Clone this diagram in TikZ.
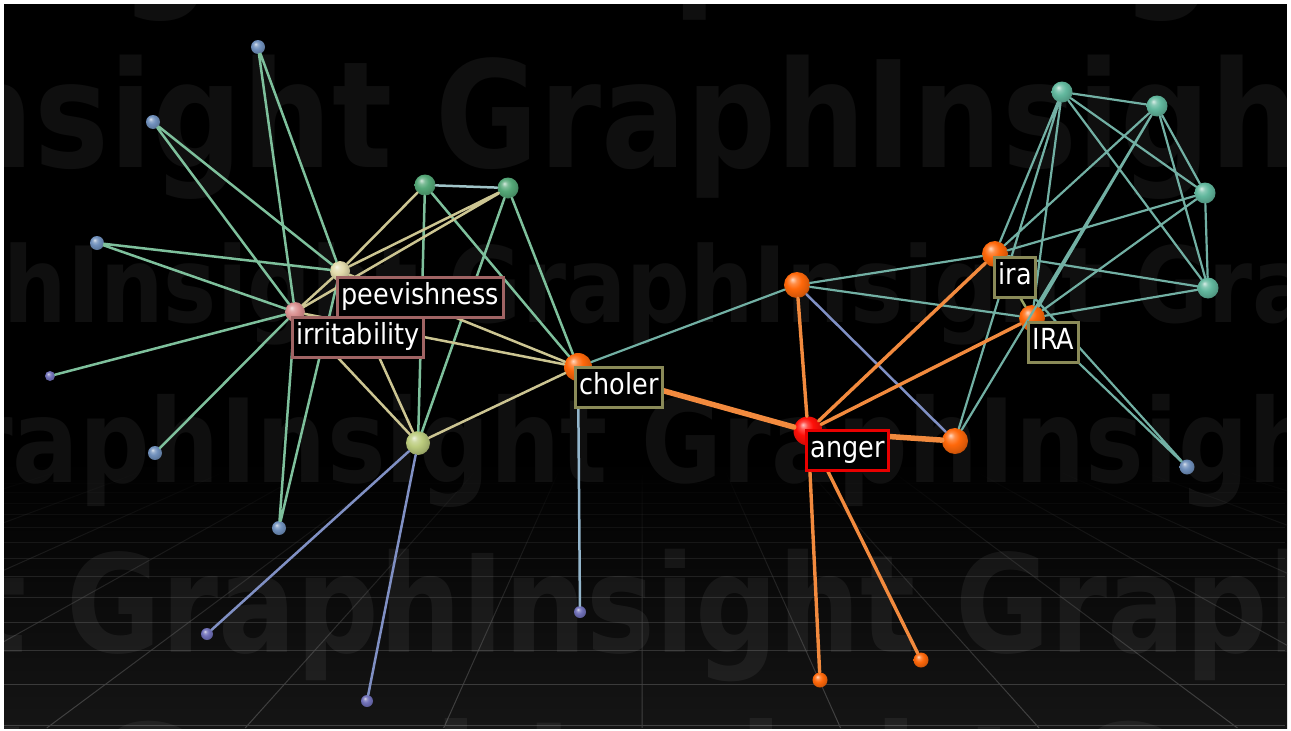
\documentclass[tikz,border=0pt]{standalone}
\usepackage{fontspec}
\setmainfont{DejaVu Sans}
\newfontfamily\tagfont[FakeStretch=0.88]{DejaVu Sans}
\newfontfamily\markfont[FakeStretch=0.85]{DejaVu Sans}
\usetikzlibrary{fadings}

\definecolor{orb}{HTML}{FF680A}
\definecolor{ember}{HTML}{FF1008}
\definecolor{leaf}{HTML}{55A878}
\definecolor{jade}{HTML}{62B89E}
\definecolor{dusk}{HTML}{7090BC}
\definecolor{plum}{HTML}{7070B8}
\definecolor{cream}{HTML}{E2DAAA}
\definecolor{rosy}{HTML}{DA9090}
\definecolor{moss}{HTML}{BCCC7E}
\definecolor{mint}{HTML}{7EC09C}
\definecolor{sand}{HTML}{CCC592}
\definecolor{steel}{HTML}{A0C4C8}
\definecolor{slate}{HTML}{8090C4}
\definecolor{sky}{HTML}{94B6CC}
\definecolor{sea}{HTML}{72B0A4}
\definecolor{flame}{HTML}{F28A3E}
\definecolor{rosefr}{HTML}{A06464}
\definecolor{olivefr}{HTML}{8A8A58}
\definecolor{redfr}{HTML}{E80000}
\definecolor{floor}{HTML}{151515}
\definecolor{gridln}{HTML}{444444}

% a brighter sphere than the stock ball shading
\makeatletter
\pgfdeclareradialshading[tikz@ball]{glossy}{\pgfqpoint{-9bp}{11bp}}{%
  color(0bp)=(tikz@ball!25!white); color(7bp)=(tikz@ball!75!white);
  color(15bp)=(tikz@ball); color(26bp)=(tikz@ball!85!black);
  color(36bp)=(tikz@ball!60!black); color(50bp)=(tikz@ball!45!black)}
\makeatother

\begin{document}
\begin{tikzpicture}[x=1pt, y=-1pt,
  sphere/.style 2 args={circle, inner sep=0pt, minimum size=#2, ball color=#1, shading=glossy},
  lbl/.style={draw=#1, line width=3pt, fill=black, text=white, anchor=north west,
    font=\tagfont\fontsize{29}{34}\selectfont, inner xsep=4pt, inner ysep=6pt,
    text height=21pt, text depth=7pt},
  wmark/.style={anchor=base west, inner sep=0pt, text=white, text opacity=0.06},
  link/.style={line width=2.5pt, line cap=round},
  mintlink/.style={link, draw=mint},
  sandlink/.style={link, draw=sand},
  steellink/.style={link, draw=steel},
  slatelink/.style={link, draw=slate},
  skylink/.style={link, draw=sky},
  sealink/.style={link, draw=sea, line width=2.2pt},
  firelink/.style={link, draw=flame, line width=3.4pt},
  heavylink/.style={link, draw=flame, line width=5.5pt},
]
  \useasboundingbox (0,0) rectangle (1291,731);
  \fill[white] (0,0) rectangle (1291,731);
  % Backdrop: floor, grid and watermark
  \begin{scope}
    \clip (4,4) rectangle (1287,728);
    \fill[black] (4,4) rectangle (1287,728);
    \shade[top color=black, bottom color=floor] (4,460) rectangle (1287,728);
    \draw[gridln, line width=1pt, path fading=north]
      (4,474) -- (1287,474) (4,483) -- (1287,483) (4,492) -- (1287,492)
      (4,503) -- (1287,503) (4,514) -- (1287,514) (4,527) -- (1287,527)
      (4,542) -- (1287,542) (4,558) -- (1287,558) (4,576) -- (1287,576)
      (4,597) -- (1287,597) (4,622) -- (1287,622) (4,650) -- (1287,650)
      (4,684) -- (1287,684) (4,725) -- (1287,725);
    \draw[gridln, line width=1pt, path fading=north]
      (69,470) -- (-742,728) (152,470) -- (-543,728) (235,470) -- (-344,728)
      (318,470) -- (-145,728) (401,470) -- (53,728) (484,470) -- (252,728)
      (567,470) -- (451,728) (650,470) -- (650,728) (733,470) -- (849,728)
      (816,470) -- (1048,728) (899,470) -- (1247,728) (982,470) -- (1445,728)
      (1065,470) -- (1644,728) (1148,470) -- (1843,728) (1231,470) -- (2042,728);
    \node[wmark, font=\markfont\bfseries\fontsize{153}{160}\selectfont] (markA) at (-587,-12)
      {GraphInsight GraphInsight GraphInsight};
    \node[wmark, font=\markfont\bfseries\fontsize{148}{156}\selectfont] (markB) at (-532,167)
      {GraphInsight GraphInsight GraphInsight};
    \node[wmark, font=\markfont\bfseries\fontsize{105}{110}\selectfont] (markC) at (-238,322)
      {GraphInsight GraphInsight GraphInsight};
    \node[wmark, font=\markfont\bfseries\fontsize{116}{120}\selectfont] (markD) at (-117,482)
      {GraphInsight GraphInsight GraphInsight};
    \node[wmark, font=\markfont\bfseries\fontsize{136}{140}\selectfont] (markE) at (-823,652)
      {GraphInsight GraphInsight GraphInsight};
    \node[wmark, font=\markfont\bfseries\fontsize{150}{156}\selectfont] (markF) at (-891,832)
      {GraphInsight GraphInsight GraphInsight};
  \end{scope}

  % Spheres, left cluster
  \node[sphere={dusk}{14}] (ta) at (258,47) {};
  \node[sphere={dusk}{14}] (tb) at (153,122) {};
  \node[sphere={dusk}{14}] (tc) at (97,243) {};
  \node[sphere={cream}{20}] (peev) at (340,271) {};
  \node[sphere={rosy}{20}] (irrit) at (295,312) {};
  \node[sphere={leaf}{21}] (ga) at (425,185) {};
  \node[sphere={leaf}{21}] (gb) at (508,188) {};
  \node[sphere={orb}{28}] (choler) at (578,367) {};
  \node[sphere={moss}{24}] (yel) at (418,443) {};
  \node[sphere={plum}{10}] (la) at (50,376) {};
  \node[sphere={dusk}{14}] (lb) at (155,453) {};
  \node[sphere={dusk}{14}] (lc) at (279,528) {};
  \node[sphere={plum}{12}] (ba) at (207,634) {};
  \node[sphere={plum}{12}] (bb) at (367,701) {};
  \node[sphere={plum}{12}] (bc) at (580,612) {};
  % Spheres, right cluster
  \node[sphere={orb}{26}] (oa) at (797,285) {};
  \node[sphere={orb}{26}] (ira) at (995,254) {};
  \node[sphere={orb}{26}] (iracap) at (1032,318) {};
  \node[sphere={ember}{29}] (anger) at (808,431) {};
  \node[sphere={orb}{26}] (ob) at (955,441) {};
  \node[sphere={orb}{15}] (aa) at (820,680) {};
  \node[sphere={orb}{15}] (ab) at (921,660) {};
  \node[sphere={jade}{21}] (ra) at (1062,92) {};
  \node[sphere={jade}{21}] (rb) at (1157,106) {};
  \node[sphere={jade}{21}] (rc) at (1205,193) {};
  \node[sphere={jade}{21}] (rd) at (1208,288) {};
  \node[sphere={dusk}{15}] (re) at (1187,467) {};

  % Edges, left cluster
  \draw[mintlink] (ta) -- (peev) (ta) -- (irrit) (tb) -- (peev) (tb) -- (irrit)
    (tc) -- (peev) (tc) -- (irrit) (la) -- (irrit) (lb) -- (irrit)
    (lc) -- (irrit) (lc) -- (peev) (ga) -- (yel) (gb) -- (yel)
    (ga) -- (choler) (gb) -- (choler);
  \draw[sandlink] (ga) -- (peev) (gb) -- (peev) (gb) -- (irrit) (peev) -- (irrit)
    (peev) -- (choler) (irrit) -- (choler) (peev) -- (yel) (irrit) -- (yel)
    (yel) -- (choler);
  \draw[steellink] (ga) -- (gb);
  \draw[slatelink] (yel) -- (ba) (yel) -- (bb) (oa) -- (ob);
  \draw[skylink] (choler) -- (bc);
  % Edges, right cluster
  \draw[sealink] (choler) -- (oa) (oa) -- (ira) (oa) -- (iracap)
    (ra) -- (rb) (ra) -- (rc) (ra) -- (rd) (rb) -- (rc) (rb) -- (rd) (rc) -- (rd)
    (ra) -- (ira) (ra) -- (iracap) (rb) -- (ira) (rb) -- (iracap)
    (rc) -- (ira) (rc) -- (iracap) (rd) -- (ira) (rd) -- (iracap)
    (ra) -- (ob) (rb) -- (ob) (re) -- (ira) (re) -- (iracap);
  \draw[sandlink, draw=moss!80!black] (ira) -- (iracap);
  \draw[firelink] (oa) -- (anger) (ira) -- (anger) (iracap) -- (anger)
    (anger) -- (aa) (anger) -- (ab);
  \draw[heavylink] (choler) -- (anger) (anger) -- (ob);

  % Labels
  \node[lbl=rosefr] (peevtag) at (336,276) {peevishness};
  \node[lbl=rosefr] (irrtag) at (291,316) {irritability};
  \node[lbl=olivefr] (cholertag) at (574,366) {choler};
  \node[lbl=redfr] (angertag) at (805,429) {anger};
  \node[lbl=olivefr] (iratag) at (993,256) {ira};
  \node[lbl=olivefr] (iracaptag) at (1027,321) {IRA};
\end{tikzpicture}
\end{document}
